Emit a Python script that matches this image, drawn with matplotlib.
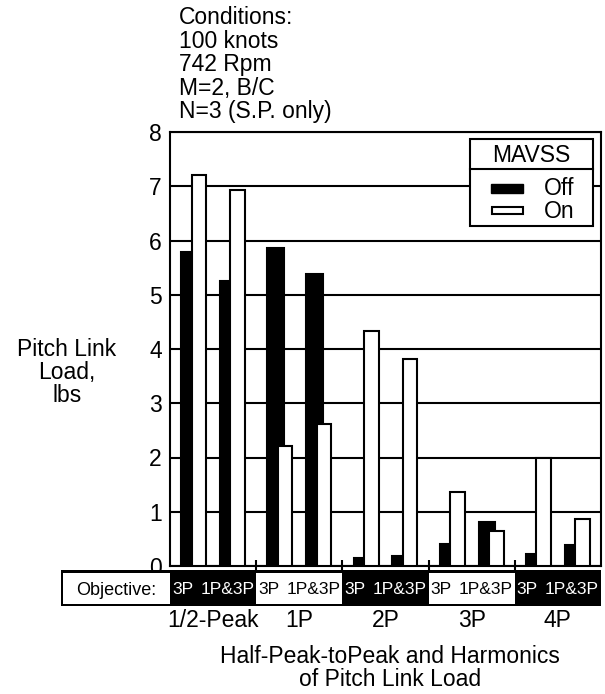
import matplotlib
matplotlib.use("Agg")
import matplotlib.pyplot as plt
from matplotlib.patches import Rectangle
from matplotlib.lines import Line2D

# data
harmonics = ["1/2-Peak", "1P", "2P", "3P", "4P"]
objectives = ["3P", "1P&3P"]
mavss_off = [5.78, 5.26, 5.87, 5.38, 0.15, 0.18, 0.40, 0.82, 0.22, 0.38]
mavss_on = [7.20, 6.94, 2.22, 2.62, 4.34, 3.82, 1.36, 0.65, 2.00, 0.87]
y_ticks = [0, 1, 2, 3, 4, 5, 6, 7, 8]
conditions = ["Conditions:", "100 knots", "742 Rpm", "M=2, B/C", "N=3 (S.P. only)"]
y_label = ["Pitch Link", "Load,", "lbs"]
x_title = ["Half-Peak-toPeak and Harmonics", "of Pitch Link Load"]

W, H = 605, 694
plt.rcParams['font.family'] = ['Liberation Sans', 'DejaVu Sans']
FS = 16.5
STRIP_FS = 12.5

fig = plt.figure(figsize=(W / 100, H / 100), dpi=100)


def fx(x):
    return x / W


def fy(y):
    return 1 - y / H


def rect(x0, y0, x1, y1, **kw):
    r = Rectangle((fx(x0), fy(y1)), fx(x1) - fx(x0), fy(y0) - fy(y1),
                  transform=fig.transFigure, **kw)
    fig.patches.append(r)
    return r


def text(x, y, s, **kw):
    kw.setdefault('fontsize', FS)
    fig.text(fx(x), fy(y), s, **kw)


ax_l, ax_r, ax_t, ax_b = 170, 601, 132, 566
ax = fig.add_axes([fx(ax_l), fy(ax_b), (ax_r - ax_l) / W, (ax_b - ax_t) / H])

n_obj = len(objectives)
x_off = [g + 0.13 + 0.45 * k for g in range(len(harmonics)) for k in range(n_obj)]
x_on = [x + 0.12 for x in x_off]
ax.bar(x_off, mavss_off, width=0.19, align='edge', color='black',
       edgecolor='black', lw=1.5, zorder=3)
ax.bar(x_on, mavss_on, width=0.17, align='edge', color='white',
       edgecolor='black', lw=1.5, zorder=4)

ax.set_xlim(0, len(harmonics))
ax.set_ylim(0, 8)
ax.set_yticks(y_ticks)
ax.set_xticks(range(1, len(harmonics)))
ax.grid(axis='y', color='black', lw=1.5, zorder=1)
ax.set_axisbelow(True)
ax.tick_params(axis='y', length=0, pad=6, labelsize=FS)
ax.tick_params(axis='x', direction='inout', length=8, width=1.5,
               labelbottom=False)
for sp in ax.spines.values():
    sp.set_linewidth(1.5)

# objective strip under the axis
rect(60.5, 570, ax_r, 606, facecolor='black', edgecolor='none', zorder=5)
rect(62.5, 572.5, ax_l, 603.5, facecolor='white', edgecolor='none', zorder=6)
text((62 + ax_l) / 2, 595, "Objective:", ha='center', va='baseline',
     fontsize=13, zorder=7)
for g, name in enumerate(harmonics):
    left = ax.transData.transform((g, 0))[0]
    right = ax.transData.transform((g + 1, 0))[0]
    col = 'white'
    if g % 2 == 1:
        rect(left, 572.5, right, 603.5, facecolor='white', edgecolor='none', zorder=6)
        col = 'black'
    text(left + 2, 594, objectives[0], ha='left', va='baseline',
         fontsize=STRIP_FS, color=col, zorder=7)
    text(right - 2, 594, objectives[1], ha='right', va='baseline',
         fontsize=STRIP_FS, color=col, zorder=7)
    text((left + right) / 2, 627, name, ha='center', va='baseline')

for i, s in enumerate(x_title):
    text(390, 663 + 23 * i, s, ha='center', va='baseline')

for i, s in enumerate(conditions):
    text(179, 24 + 23.5 * i, s, ha='left', va='baseline')

for i, s in enumerate(y_label):
    text(67, 356 + 23 * i, s, ha='center', va='baseline')

# legend box
rect(470, 139, 593, 226, facecolor='white', edgecolor='black', lw=1.5, zorder=5)
fig.lines.append(Line2D([fx(470), fx(593)], [fy(169), fy(169)], color='black',
                        lw=1.5, transform=fig.transFigure, zorder=6))
text(531, 162, "MAVSS", ha='center', va='baseline', zorder=7)
rect(491, 184, 523, 193, facecolor='black', edgecolor='black', lw=1, zorder=7)
rect(491.5, 207.5, 522.5, 214, facecolor='white', edgecolor='black', lw=1.5, zorder=7)
text(544, 195, "Off", ha='left', va='baseline', zorder=7)
text(544, 218, "On", ha='left', va='baseline', zorder=7)

fig.savefig("out.png", dpi=100)
